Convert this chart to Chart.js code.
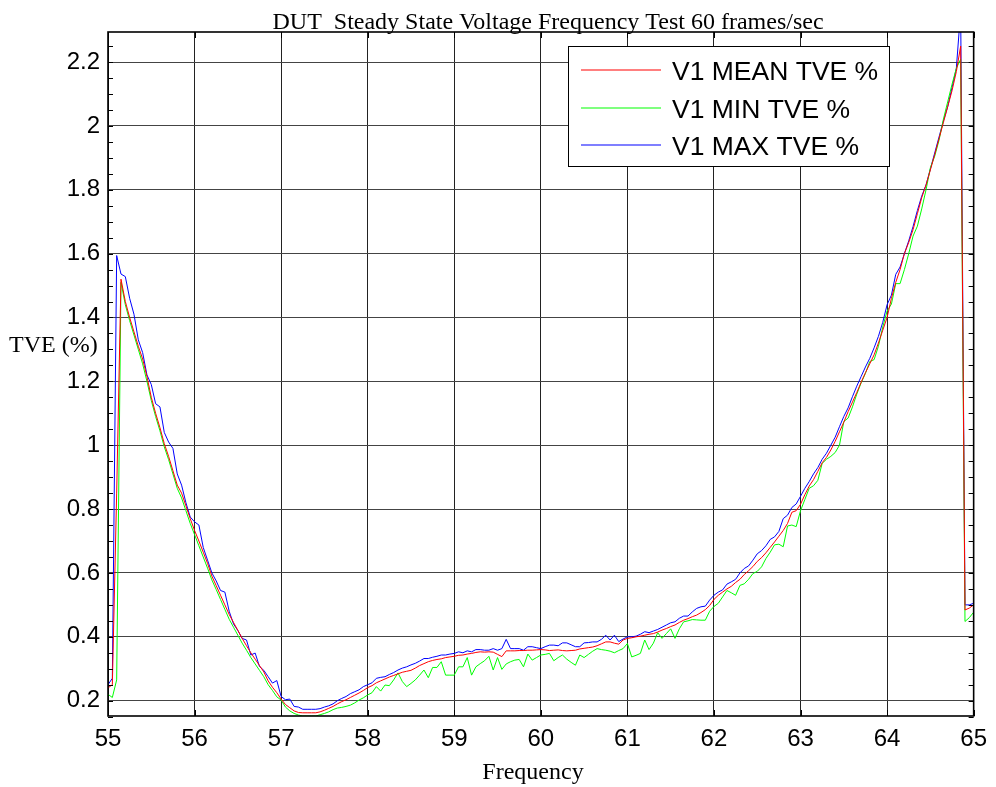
<!DOCTYPE html>
<html><head><meta charset="utf-8">
<script src="https://cdn.jsdelivr.net/npm/chart.js@4"></script>
<style>html,body{margin:0;padding:0;background:#fff;}canvas{display:block;}</style>
</head><body>
<canvas id="c" width="996" height="787"></canvas>
<script>
const titleText = 'DUT  Steady State Voltage Frequency Test 60 frames/sec';
const xTitle = 'Frequency';
const yTitle = 'TVE (%)';
const seriesLabels = ['V1 MEAN TVE %', 'V1 MIN TVE %', 'V1 MAX TVE %'];
const seriesColors = ['#ff0000', '#00ff00', '#0000ff'];

const frequency = [
55.00,55.05,55.10,55.15,55.20,55.25,55.30,55.35,55.40,55.45,
55.50,55.55,55.60,55.65,55.70,55.75,55.80,55.85,55.90,55.95,
56.00,56.05,56.10,56.15,56.20,56.25,56.30,56.35,56.40,56.45,
56.50,56.55,56.60,56.65,56.70,56.75,56.80,56.85,56.90,56.95,
57.00,57.05,57.10,57.15,57.20,57.25,57.30,57.35,57.40,57.45,
57.50,57.55,57.60,57.65,57.70,57.75,57.80,57.85,57.90,57.95,
58.00,58.05,58.10,58.15,58.20,58.25,58.30,58.35,58.40,58.45,
58.50,58.55,58.60,58.65,58.70,58.75,58.80,58.85,58.90,58.95,
59.00,59.05,59.10,59.15,59.20,59.25,59.30,59.35,59.40,59.45,
59.50,59.55,59.60,59.65,59.70,59.75,59.80,59.85,59.90,59.95,
60.00,60.05,60.10,60.15,60.20,60.25,60.30,60.35,60.40,60.45,
60.50,60.55,60.60,60.65,60.70,60.75,60.80,60.85,60.90,60.95,
61.00,61.05,61.10,61.15,61.20,61.25,61.30,61.35,61.40,61.45,
61.50,61.55,61.60,61.65,61.70,61.75,61.80,61.85,61.90,61.95,
62.00,62.05,62.10,62.15,62.20,62.25,62.30,62.35,62.40,62.45,
62.50,62.55,62.60,62.65,62.70,62.75,62.80,62.85,62.90,62.95,
63.00,63.05,63.10,63.15,63.20,63.25,63.30,63.35,63.40,63.45,
63.50,63.55,63.60,63.65,63.70,63.75,63.80,63.85,63.90,63.95,
64.00,64.05,64.10,64.15,64.20,64.25,64.30,64.35,64.40,64.45,
64.50,64.55,64.60,64.65,64.70,64.75,64.80,64.85,64.90,64.95,
65.00];

const meanTVE = [
0.24,0.25,0.85,1.52,1.45,1.40,1.355,1.31,1.27,1.215,
1.15,1.10,1.055,1.005,0.965,0.92,0.875,0.85,0.81,0.77,
0.733,0.70,0.665,0.63,0.59,0.56,0.53,0.50,0.47,0.445,
0.42,0.395,0.372,0.35,0.33,0.31,0.29,0.262,0.242,0.225,
0.205,0.188,0.178,0.168,0.163,0.162,0.162,0.162,0.162,0.165,
0.17,0.176,0.182,0.19,0.197,0.203,0.21,0.217,0.224,0.232,
0.241,0.247,0.256,0.262,0.268,0.274,0.279,0.284,0.289,0.292,
0.295,0.302,0.31,0.316,0.322,0.326,0.329,0.331,0.335,0.337,
0.339,0.342,0.343,0.346,0.348,0.351,0.353,0.352,0.353,0.352,
0.345,0.338,0.356,0.356,0.356,0.357,0.357,0.358,0.358,0.359,
0.360,0.359,0.357,0.358,0.359,0.357,0.356,0.357,0.358,0.362,
0.364,0.366,0.368,0.372,0.378,0.384,0.384,0.38,0.377,0.39,
0.395,0.397,0.40,0.402,0.405,0.408,0.41,0.415,0.421,0.426,
0.432,0.437,0.445,0.452,0.457,0.463,0.468,0.476,0.485,0.498,
0.517,0.53,0.54,0.55,0.558,0.57,0.58,0.595,0.607,0.62,
0.636,0.648,0.663,0.68,0.697,0.715,0.733,0.755,0.79,0.795,
0.815,0.845,0.872,0.892,0.918,0.945,0.962,0.985,1.012,1.042,
1.072,1.105,1.135,1.165,1.197,1.227,1.255,1.283,1.32,1.36,
1.40,1.46,1.51,1.55,1.60,1.635,1.675,1.725,1.775,1.815,
1.862,1.91,1.96,2.01,2.06,2.11,2.17,2.25,0.484,0.49,
0.50];

const minTVE = [
0.22,0.21,0.265,1.51,1.44,1.39,1.345,1.30,1.255,1.20,
1.14,1.09,1.045,0.995,0.955,0.91,0.865,0.835,0.795,0.755,
0.72,0.685,0.65,0.615,0.578,0.548,0.517,0.486,0.455,0.43,
0.405,0.38,0.358,0.335,0.315,0.295,0.275,0.25,0.232,0.212,
0.202,0.18,0.168,0.16,0.155,0.152,0.152,0.152,0.152,0.156,
0.16,0.165,0.172,0.177,0.179,0.182,0.186,0.193,0.202,0.209,
0.218,0.225,0.244,0.23,0.249,0.247,0.265,0.287,0.26,0.244,
0.254,0.265,0.28,0.296,0.272,0.304,0.304,0.322,0.28,0.28,
0.28,0.306,0.306,0.335,0.28,0.306,0.316,0.325,0.339,0.296,
0.335,0.298,0.315,0.322,0.327,0.329,0.306,0.346,0.327,0.335,
0.343,0.345,0.348,0.325,0.335,0.343,0.33,0.32,0.311,0.343,
0.335,0.345,0.355,0.363,0.36,0.358,0.355,0.35,0.357,0.363,
0.379,0.337,0.342,0.348,0.39,0.36,0.38,0.413,0.395,0.41,
0.425,0.395,0.425,0.447,0.45,0.454,0.453,0.452,0.452,0.48,
0.495,0.505,0.525,0.545,0.538,0.53,0.561,0.566,0.58,0.598,
0.605,0.619,0.645,0.665,0.688,0.69,0.682,0.747,0.75,0.745,
0.795,0.83,0.865,0.873,0.89,0.943,0.956,0.965,0.977,1.0,
1.074,1.085,1.12,1.16,1.195,1.225,1.262,1.268,1.31,1.37,
1.42,1.442,1.506,1.506,1.55,1.60,1.655,1.686,1.74,1.80,
1.869,1.905,1.955,2.02,2.075,2.13,2.18,2.209,0.448,0.46,
0.477];

const maxTVE = [
0.25,0.27,1.594,1.536,1.528,1.46,1.41,1.33,1.29,1.22,
1.19,1.13,1.12,1.04,1.01,0.99,0.91,0.875,0.82,0.775,
0.76,0.75,0.68,0.64,0.60,0.575,0.545,0.54,0.48,0.44,
0.42,0.395,0.39,0.343,0.349,0.307,0.295,0.275,0.255,0.263,
0.213,0.203,0.205,0.182,0.18,0.173,0.173,0.173,0.173,0.175,
0.18,0.184,0.19,0.2,0.207,0.213,0.222,0.228,0.234,0.244,
0.25,0.256,0.27,0.273,0.275,0.282,0.288,0.296,0.302,0.306,
0.312,0.317,0.324,0.332,0.332,0.336,0.339,0.343,0.343,0.346,
0.348,0.353,0.35,0.356,0.353,0.36,0.36,0.358,0.358,0.363,
0.358,0.363,0.392,0.363,0.363,0.363,0.358,0.369,0.369,0.366,
0.363,0.369,0.374,0.374,0.372,0.381,0.381,0.375,0.369,0.369,
0.381,0.382,0.384,0.384,0.392,0.405,0.39,0.405,0.385,0.393,
0.40,0.40,0.402,0.408,0.416,0.413,0.418,0.423,0.43,0.437,
0.444,0.447,0.458,0.465,0.465,0.478,0.489,0.494,0.496,0.515,
0.53,0.54,0.547,0.565,0.572,0.58,0.60,0.614,0.622,0.64,
0.66,0.67,0.685,0.705,0.713,0.73,0.77,0.781,0.805,0.816,
0.84,0.865,0.886,0.91,0.93,0.956,0.975,1.0,1.025,1.058,
1.09,1.117,1.152,1.185,1.215,1.245,1.272,1.305,1.341,1.385,
1.44,1.47,1.535,1.558,1.60,1.64,1.685,1.735,1.78,1.815,
1.865,1.915,1.965,2.015,2.06,2.12,2.18,2.36,0.50,0.50,
0.505];

const xTicks = [55,56,57,58,59,60,61,62,63,64,65];
const yTicks = [0.2,0.4,0.6,0.8,1,1.2,1.4,1.6,1.8,2,2.2];
const yMinorTicks = [0.15,0.2,0.25,0.3,0.35,0.4,0.45,0.5,0.55,0.6,0.65,0.7,0.75,0.8,0.85,0.9,0.95,1,1.05,1.1,1.15,1.2,1.25,1.3,1.35,1.4,1.45,1.5,1.55,1.6,1.65,1.7,1.75,1.8,1.85,1.9,1.95,2,2.05,2.1,2.15,2.2,2.25];
const xRange = [55, 65];
const yRange = [0.152, 2.294];

const SANS = '"Liberation Sans", Arial, sans-serif';
const SERIF = '"Liberation Serif", "Times New Roman", serif';

const series = [meanTVE, minTVE, maxTVE];
const datasets = series.map((vals, k) => ({
  label: seriesLabels[k],
  data: frequency.map((f, i) => ({x: f, y: vals[i]})),
  borderColor: seriesColors[k],
  backgroundColor: seriesColors[k],
  borderWidth: 1,
  pointRadius: 0,
  tension: 0,
  fill: false
}));

const decor = {
  id: 'decor',
  afterDatasetsDraw(chart) {
    const {ctx, chartArea: a, scales: {x, y}} = chart;
    ctx.save();
    ctx.strokeStyle = '#000';
    ctx.lineWidth = 1;
    ctx.beginPath();
    yMinorTicks.forEach(v => {
      const py = Math.round(y.getPixelForValue(v)) + 0.5;
      ctx.moveTo(a.left, py); ctx.lineTo(a.left + 5, py);
      ctx.moveTo(a.right, py); ctx.lineTo(a.right - 5, py);
    });
    xTicks.forEach(v => {
      const px = Math.round(x.getPixelForValue(v)) + 0.5;
      ctx.moveTo(px, a.bottom); ctx.lineTo(px, a.bottom - 6);
      ctx.moveTo(px, a.top); ctx.lineTo(px, a.top + 6);
    });
    ctx.stroke();
    ctx.lineWidth = 1.6;
    ctx.strokeRect(a.left, a.top, a.right - a.left, a.bottom - a.top);

    // legend box
    const lx = 568.5, ly = 46.5, lw = 321, lh = 120;
    ctx.fillStyle = '#fff';
    ctx.fillRect(lx, ly, lw, lh);
    ctx.lineWidth = 1;
    ctx.strokeStyle = '#000';
    ctx.strokeRect(lx, ly, lw, lh);
    const rows = [70, 108, 145];
    ctx.font = '26.5px ' + SANS;
    ctx.textBaseline = 'alphabetic';
    ctx.textAlign = 'left';
    chart.data.datasets.forEach((ds, k) => {
      ctx.strokeStyle = ds.borderColor;
      ctx.lineWidth = 1.2;
      ctx.beginPath();
      ctx.moveTo(581, rows[k]); ctx.lineTo(661, rows[k]);
      ctx.stroke();
      ctx.fillStyle = '#000';
      ctx.fillText(ds.label, 672, rows[k] + 9.5);
    });

    // titles
    ctx.fillStyle = '#000';
    ctx.font = '24px ' + SERIF;
    ctx.textAlign = 'center';
    ctx.fillText(titleText, 548, 29);
    ctx.fillText(xTitle, 533, 779);
    ctx.textAlign = 'left';
    ctx.fillText(yTitle, 9, 352);
    ctx.restore();
  }
};

new Chart(document.getElementById('c'), {
  type: 'line',
  data: {datasets},
  options: {
    responsive: false,
    animation: false,
    devicePixelRatio: 1,
    layout: {padding: {top: 32, right: 18, bottom: 0, left: 0}},
    plugins: {legend: {display: false}, tooltip: {enabled: false}, title: {display: false}},
    scales: {
      x: {
        type: 'linear', min: xRange[0], max: xRange[1],
        afterBuildTicks: s => { s.ticks = xTicks.map(v => ({value: v})); },
        afterFit: s => { s.height = 71; },
        ticks: {color: '#000', font: {family: SANS, size: 24}, padding: 9, maxRotation: 0, autoSkip: false,
                callback: v => String(v)},
        grid: {color: '#222', lineWidth: 1, drawTicks: false},
        border: {display: false}
      },
      y: {
        type: 'linear', min: yRange[0], max: yRange[1],
        afterBuildTicks: s => { s.ticks = yTicks.map(v => ({value: v})); },
        afterFit: s => { s.width = 108; },
        ticks: {color: '#000', font: {family: SANS, size: 24}, padding: 8, autoSkip: false,
                callback: v => String(Math.round(v * 10) / 10)},
        grid: {color: '#444', lineWidth: 1, drawTicks: false},
        border: {display: false}
      }
    }
  },
  plugins: [decor]
});
</script>
</body></html>
